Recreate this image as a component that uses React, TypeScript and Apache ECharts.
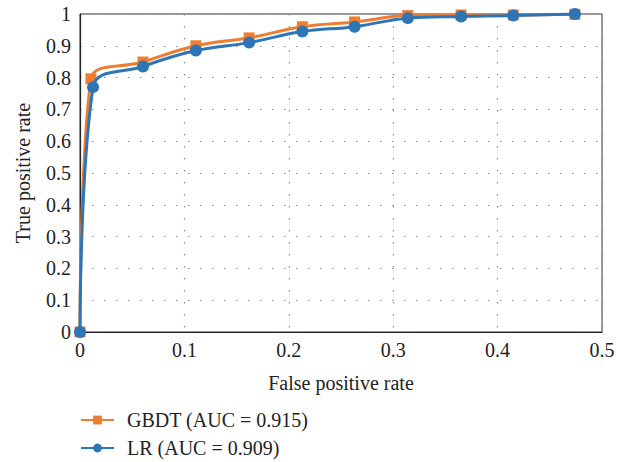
import React, { useEffect, useRef } from "react";
import * as echarts from "echarts";

const gbdtX = [0, 0.0105, 0.0603, 0.111, 0.162, 0.213, 0.263, 0.314, 0.365, 0.415, 0.474];
const gbdtY = [0, 0.796, 0.849, 0.9, 0.925, 0.96, 0.975, 0.995, 0.997, 0.997, 0.999];
const lrX = [0, 0.0125, 0.0603, 0.111, 0.162, 0.213, 0.263, 0.314, 0.365, 0.415, 0.474];
const lrY = [0, 0.77, 0.835, 0.885, 0.91, 0.945, 0.96, 0.987, 0.992, 0.995, 1.0];
const seriesNames = ["GBDT (AUC = 0.915)", "LR (AUC = 0.909)"];
const colors = ["#ED7D31", "#2E75B6"];

const FONT = "Liberation Serif";

export default function App() {
  const ref = useRef<HTMLDivElement>(null);
  useEffect(() => {
    if (!ref.current) return;
    const chart = echarts.init(ref.current, null, { renderer: "svg" });
    const split = { show: true, lineStyle: { color: "#888", type: [1.5, 10.5] as any, width: 1.2 } };
    const labelStyle = { fontFamily: FONT, fontSize: 20, color: "#222" };
    chart.setOption({
      animation: false,
      grid: { left: 80, right: 23, top: 14, bottom: 130, show: true, borderColor: "#333", borderWidth: 1 },
      legend: {
        orient: "vertical",
        left: 80,
        top: 410,
        height: 60,
        padding: 0,
        itemWidth: 33,
        itemHeight: 11,
        itemGap: 8,
        textStyle: { fontFamily: FONT, fontSize: 20, color: "#222", padding: [0, 0, 0, 8] },
        data: seriesNames,
      },
      xAxis: {
        type: "value",
        min: 0,
        max: 0.5,
        interval: 0.1,
        name: "False positive rate",
        nameLocation: "middle",
        nameGap: 41,
        nameTextStyle: { fontFamily: FONT, fontSize: 20, color: "#222" },
        axisLine: { show: true, lineStyle: { color: "#222", width: 1.2 } },
        axisTick: { show: false },
        axisLabel: { ...labelStyle, margin: 8, formatter: (v: number) => String(Math.round(v * 10) / 10) },
        splitLine: split,
      },
      yAxis: {
        type: "value",
        min: 0,
        max: 1,
        interval: 0.1,
        name: "True positive rate",
        nameLocation: "middle",
        nameGap: 47,
        nameTextStyle: { fontFamily: FONT, fontSize: 20, color: "#222" },
        axisLine: { show: true, lineStyle: { color: "#222", width: 1.2 } },
        axisTick: { show: false },
        axisLabel: { ...labelStyle, margin: 9, formatter: (v: number) => String(Math.round(v * 10) / 10) },
        splitLine: split,
      },
      series: [
        {
          name: seriesNames[0],
          type: "line",
          smooth: 0.4,
          data: gbdtX.map((x, i) => [x, gbdtY[i]]),
          symbol: "rect",
          symbolSize: 11,
          itemStyle: { color: colors[0] },
          lineStyle: { color: colors[0], width: 3 },
          z: 2,
        },
        {
          name: seriesNames[1],
          type: "line",
          smooth: 0.4,
          data: lrX.map((x, i) => [x, lrY[i]]),
          symbol: "circle",
          symbolSize: 12,
          itemStyle: { color: colors[1] },
          lineStyle: { color: colors[1], width: 3 },
          z: 3,
        },
      ],
    });
    return () => chart.dispose();
  }, []);
  return <div ref={ref} style={{ width: 625, height: 462, position: "absolute", left: 0, top: 0 }} />;
}
